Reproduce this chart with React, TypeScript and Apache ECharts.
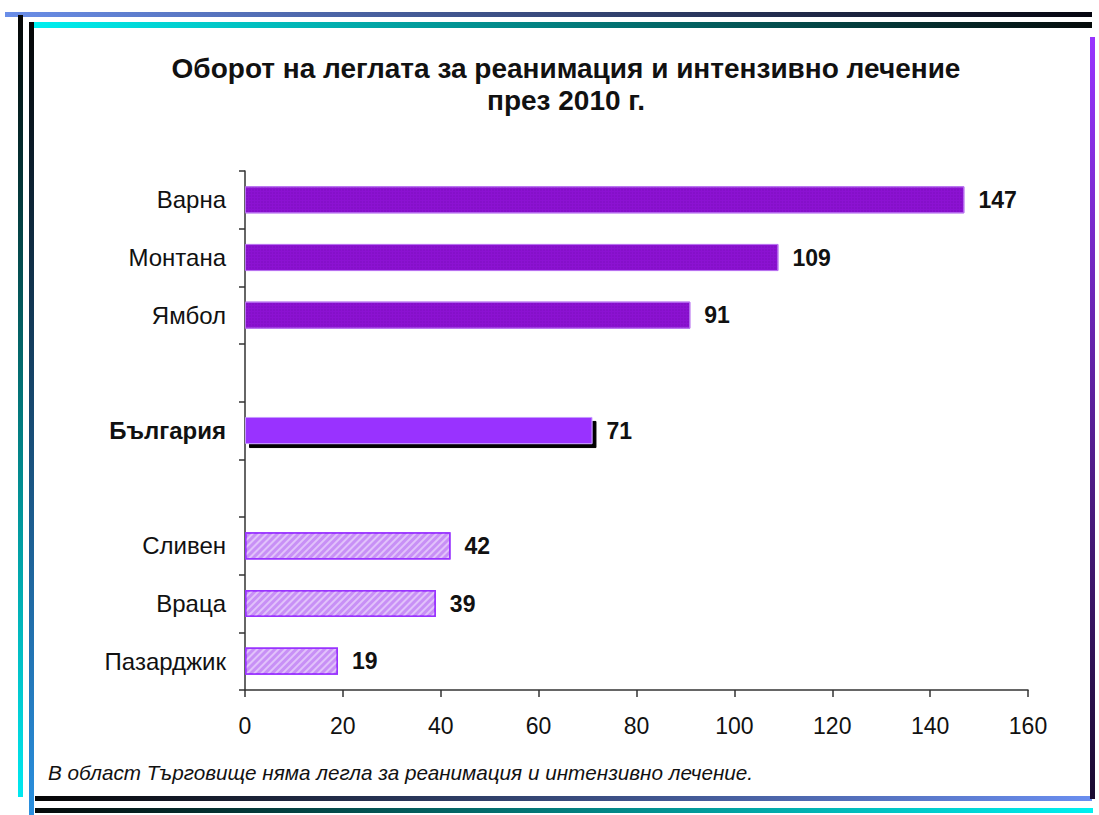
import React, { useEffect, useRef } from "react";
import * as echarts from "echarts";

const categories = ["Варна", "Монтана", "Ямбол", " ", "България", "  ", "Сливен", "Враца", "Пазарджик"];
const values: (number | null)[] = [147, 109, 91, null, 71, null, 42, 39, 19];
// group of each bar: "high", "country", "low"
const groups = ["high", "high", "high", "", "country", "", "low", "low", "low"];
const xTicks = [0, 20, 40, 60, 80, 100, 120, 140, 160];
const titleLines = ["Оборот на леглата за реанимация и интензивно лечение", "през 2010 г."];
const footnote = "В област Търговище няма легла за реанимация и интензивно лечение.";

const FONT = 'Arial, "Liberation Sans", sans-serif';

function lg(x2: number, y2: number, c1: string, c2: string) {
  return { type: "linear", x: 0, y: 0, x2, y2, colorStops: [{ offset: 0, color: c1 }, { offset: 1, color: c2 }] };
}

export default function App() {
  const ref = useRef<HTMLDivElement>(null);
  useEffect(() => {
    document.body.style.margin = "0";
    const chart = echarts.init(ref.current!, null, { renderer: "svg" });

    const data = values.map((v, i) => {
      const g = groups[i];
      if (v === null) return { value: null };
      let itemStyle: any;
      if (g === "high") {
        itemStyle = {
          color: "#8c12d2",
          borderColor: "#b872f0",
          borderWidth: 1,
          decal: { symbol: "rect", symbolSize: 0.5, dashArrayX: [2, 1], dashArrayY: [2, 1], color: "rgba(60,0,110,0.35)" },
        };
      } else if (g === "country") {
        itemStyle = {
          color: "#9933ff",
          borderColor: "#c799ff",
          borderWidth: 1,
          shadowColor: "#000",
          shadowBlur: 0,
          shadowOffsetX: 4,
          shadowOffsetY: 4,
        };
      } else {
        itemStyle = {
          color: "#c890f6",
          borderColor: "#9933ff",
          borderWidth: 1.5,
          decal: { symbol: "rect", symbolSize: 1, dashArrayX: [1, 0], dashArrayY: [2, 3], rotation: -Math.PI / 4, color: "rgba(255,255,255,0.45)" },
        };
      }
      return { value: v, itemStyle };
    });

    chart.setOption({
      animation: false,
      backgroundColor: "#ffffff",
      grid: { left: 245, right: 71, top: 171, bottom: 125, containLabel: false },
      xAxis: {
        type: "value",
        min: xTicks[0],
        max: xTicks[xTicks.length - 1],
        interval: xTicks[1] - xTicks[0],
        axisLine: { show: true, lineStyle: { color: "#333", width: 1.5 } },
        axisTick: { show: true, length: 7, lineStyle: { color: "#333", width: 1.5 } },
        axisLabel: { fontSize: 23, color: "#111", fontFamily: FONT, margin: 24 },
        splitLine: { show: false },
      },
      yAxis: {
        type: "category",
        data: categories,
        inverse: true,
        axisLine: { show: true, lineStyle: { color: "#333", width: 1.5 } },
        axisTick: { show: true, length: 6, lineStyle: { color: "#333", width: 1.5 } },
        axisLabel: {
          fontSize: 24,
          color: "#111",
          fontFamily: FONT,
          margin: 19,
          formatter: (v: string) => (v === "България" ? "{b|" + v + "}" : v),
          rich: { b: { fontSize: 24, fontWeight: "bold", color: "#111", fontFamily: FONT } },
        },
      },
      series: [
        {
          type: "bar",
          data,
          barWidth: "47%",
          label: {
            show: true,
            position: "right",
            distance: 14,
            fontSize: 23,
            fontWeight: "bold",
            color: "#111",
            fontFamily: FONT,
          },
        },
      ],
      graphic: [
        {
          type: "text",
          x: 566,
          y: 68,
          style: { text: titleLines[0], fontSize: 28, fontWeight: "bold", fill: "#111", fontFamily: FONT, align: "center", verticalAlign: "middle" },
        },
        {
          type: "text",
          x: 566,
          y: 100,
          style: { text: titleLines[1], fontSize: 28, fontWeight: "bold", fill: "#111", fontFamily: FONT, align: "center", verticalAlign: "middle" },
        },
        {
          type: "text",
          x: 48,
          y: 772,
          style: { text: footnote, fontSize: 20.7, fontStyle: "italic", fill: "#111", fontFamily: FONT, align: "left", verticalAlign: "middle" },
        },
        // frame lines
        { type: "rect", shape: { x: 5, y: 12, width: 1087, height: 5 }, style: { fill: lg(1, 0, "#6a8ee8", "#05050f") } },
        { type: "rect", shape: { x: 31, y: 22, width: 1061, height: 6 }, style: { fill: lg(1, 0, "#00f0f0", "#050a0a") } },
        { type: "rect", shape: { x: 18, y: 15, width: 5, height: 782 }, style: { fill: lg(0, 1, "#050505", "#00e8f0") } },
        { type: "rect", shape: { x: 29, y: 22, width: 5, height: 793 }, style: { fill: lg(0, 1, "#050505", "#2a90e0") } },
        { type: "rect", shape: { x: 35, y: 796, width: 1057, height: 5 }, style: { fill: lg(1, 0, "#050505", "#6a8ef0") } },
        { type: "rect", shape: { x: 35, y: 808, width: 1058, height: 5 }, style: { fill: lg(1, 0, "#050a0a", "#00f0f0") } },
        { type: "rect", shape: { x: 1090, y: 37, width: 5, height: 762 }, style: { fill: lg(0, 1, "#9933ff", "#1a0a30") } },
      ],
    });
    return () => chart.dispose();
  }, []);
  return <div ref={ref} style={{ width: 1099, height: 815 }} />;
}
